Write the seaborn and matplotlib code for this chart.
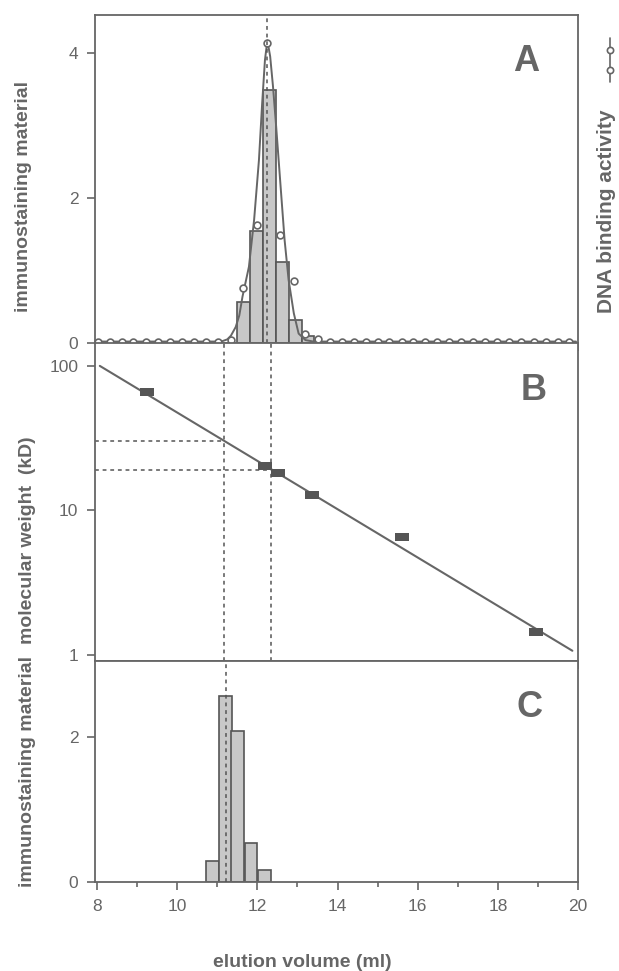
import matplotlib
matplotlib.use('Agg')
import matplotlib.pyplot as plt
from matplotlib.lines import Line2D
import seaborn as sns

# panel A: immunostaining (bars) and DNA binding activity (open circles + fit)
frac_a = [11.665, 11.975, 12.295, 12.62, 12.945, 13.265]
immuno_a = [0.57, 1.54, 3.48, 1.11, 0.32, 0.09]
dna_vol = [8.03, 8.32, 8.62, 8.91, 9.21, 9.52, 9.81, 10.11, 10.41, 10.72,
           11.03, 11.34, 11.63, 11.98, 12.25, 12.56, 12.92, 13.20, 13.51, 13.82,
           14.12, 14.41, 14.70, 15.00, 15.29, 15.60, 15.89, 16.19, 16.49, 16.79,
           17.09, 17.39, 17.69, 17.99, 18.29, 18.59, 18.89, 19.19, 19.49, 19.77]
dna_act = [0.02, 0.02, 0.02, 0.02, 0.02, 0.02, 0.02, 0.02, 0.02, 0.02,
           0.02, 0.04, 0.76, 1.63, 4.13, 1.49, 0.86, 0.13, 0.05, 0.02,
           0.02, 0.02, 0.02, 0.02, 0.02, 0.02, 0.02, 0.02, 0.02, 0.02,
           0.02, 0.02, 0.02, 0.02, 0.02, 0.02, 0.02, 0.02, 0.02, 0.02]
fit_vol = [7.95, 11.10, 11.25, 11.34, 11.46, 11.55, 11.63, 11.79, 11.92, 12.04,
           12.12, 12.19, 12.25, 12.32, 12.39, 12.47, 12.58, 12.68, 12.78, 12.91,
           13.03, 13.20, 13.40, 19.95]
fit_act = [0.02, 0.02, 0.05, 0.10, 0.22, 0.38, 0.64, 1.05, 1.70, 2.52,
           3.30, 3.90, 4.17, 3.95, 3.54, 2.98, 2.16, 1.42, 0.87, 0.41,
           0.13, 0.04, 0.02, 0.02]
peak_a = 12.25

# panel B: calibration standards
std_vol = [9.25, 12.18, 12.51, 13.36, 15.60, 18.95]
std_mw = [65.9, 20.4, 18.2, 12.7, 6.6, 1.45]
calib_vol = [8.07, 19.86]
calib_mw = [100, 1.07]
read_vol = [11.18, 12.33]
read_mw = [30.1, 19.0]

# panel C: immunostaining
frac_c = [10.89, 11.20, 11.51, 11.84, 12.17]
immuno_c = [0.29, 2.57, 2.08, 0.54, 0.16]
peak_c = 11.21

grey = '#666666'
dark = '#555555'
bar_face = '#c8c8c8'

sns.set_theme(style='ticks')
plt.rcParams['font.family'] = ['Liberation Sans', 'DejaVu Sans']
plt.rcParams['axes.edgecolor'] = grey
plt.rcParams['axes.linewidth'] = 1.3

fig = plt.figure(figsize=(6.19, 9.71), dpi=100)
L, W = 95 / 619, 483 / 619
axA = fig.add_axes([L, 1 - 343 / 971, W, 328 / 971])
axB = fig.add_axes([L, 1 - 661 / 971, W, 318 / 971])
axC = fig.add_axes([L, 1 - 882 / 971, W, 221 / 971])

dash = dict(color=dark, lw=1.1, ls=(0, (2.5, 2.5)))

# A
axA.bar(frac_a, immuno_a, width=0.32, color=bar_face, edgecolor='#555555', linewidth=1.2, zorder=2)
sns.lineplot(x=fit_vol, y=fit_act, color=grey, lw=1.4, ax=axA, zorder=3, sort=False)
sns.scatterplot(x=dna_vol, y=dna_act, marker='o', s=24, facecolor='white',
                edgecolor=grey, linewidth=1.2, ax=axA, zorder=4, clip_on=False)
axA.axvline(peak_a, zorder=5, **dash)
axA.set_ylim(0, 4.52)
axA.set_yticks([0, 2, 4])

# B
sns.lineplot(x=calib_vol, y=calib_mw, color=grey, lw=1.5, ax=axB, zorder=3)
rect = [(-1, -0.55), (1, -0.55), (1, 0.55), (-1, 0.55), (-1, -0.55)]
sns.scatterplot(x=std_vol, y=std_mw, marker=rect, s=110, color=dark, linewidth=0, ax=axB, zorder=4)
for v, m in zip(read_vol, read_mw):
    axB.axvline(v, zorder=2, **dash)
    axB.plot([7.95, v], [m, m], zorder=2, **dash)
axB.set_yscale('log')
axB.set_ylim(0.909, 144)
axB.set_yticks([1, 10, 100])
axB.set_yticklabels(['1', '10', '100'])
axB.minorticks_off()

# C
axC.bar(frac_c, immuno_c, width=0.32, color=bar_face, edgecolor='#555555', linewidth=1.2, zorder=2)
axC.axvline(peak_c, zorder=5, **dash)
axC.set_ylim(0, 3.05)
axC.set_yticks([0, 2])

for ax in (axA, axB, axC):
    ax.set_xlim(7.95, 19.95)
    ax.set_xticks([8, 10, 12, 14, 16, 18, 20])
    ax.set_xticks([9, 11, 13, 15, 17, 19], minor=True)
    ax.tick_params(which='major', direction='out', length=6, width=1.2, color=grey,
                   labelcolor=grey, labelsize=12.5, pad=6)
    ax.tick_params(which='minor', axis='x', direction='out', length=3.5, width=1.2, color=grey)
    ax.tick_params(axis='y', which='minor', left=False)
    for s in ax.spines.values():
        s.set_color(grey)
        s.set_linewidth(1.3)
        s.set_visible(True)
    ax.set_xlabel('')
    ax.set_ylabel('')
axA.tick_params(labelbottom=False)
axB.tick_params(labelbottom=False)
axC.set_xticklabels(['8', '10', '12', '14', '16', '18', '20'])

# panel letters
for ax, lab, px, py in ((axA, 'A', 0.893, 0.858), (axB, 'B', 0.909, 0.852), (axC, 'C', 0.90, 0.79)):
    ax.text(px, py, lab, transform=ax.transAxes, ha='center', va='center',
            fontsize=26, fontweight='bold', color=grey)

lab_kw = dict(rotation=90, ha='center', va='center', fontsize=14, fontweight='bold', color=grey)
fig.text(24 / 619, 1 - 197 / 971, 'immunostaining material', **lab_kw)
fig.text(28 / 619, 1 - 540 / 971, 'molecular weight  (kD)', **lab_kw)
fig.text(27.5 / 619, 1 - 771 / 971, 'immunostaining material', **lab_kw)
fig.text(607 / 619, 1 - 211 / 971, 'DNA binding activity', rotation=90, ha='center', va='center',
         fontsize=15, fontweight='bold', color=grey)
fig.text(302 / 619, 1 - 962 / 971, 'elution volume (ml)', ha='center', va='center',
         fontsize=14, fontweight='bold', color=grey)

# right-hand key for the DNA binding symbol
fig.add_artist(Line2D([610 / 619, 610 / 619], [1 - 38 / 971, 1 - 82 / 971], color=grey, lw=1.2))
fig.add_artist(Line2D([610 / 619, 610 / 619], [1 - 50 / 971, 1 - 70 / 971], ls='none', marker='o',
                      ms=4.5, mfc='white', mec=grey, mew=1.2))

fig.savefig('out.png', dpi=100)
